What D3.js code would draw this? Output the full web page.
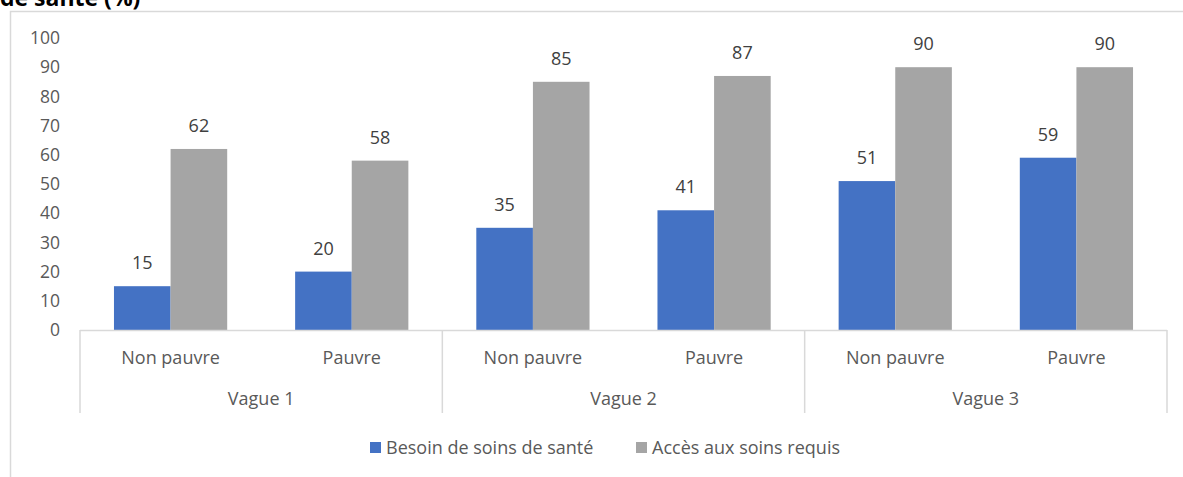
<!DOCTYPE html>
<html><head><meta charset="utf-8">
<script src="https://cdn.jsdelivr.net/npm/d3@7"></script>
<style>body{margin:0;background:#fff;}svg{display:block;font-family:"Open Sans",sans-serif;}</style>
</head><body>
<svg id="c" width="1183" height="477"></svg>
<script>
const waves = ["Vague 1", "Vague 2", "Vague 3"];
const groups = ["Non pauvre", "Pauvre"];
const seriesNames = ["Besoin de soins de santé", "Accès aux soins requis"];
const besoin = [15, 20, 35, 41, 51, 59];
const acces = [62, 58, 85, 87, 90, 90];
const yTicks = [0, 10, 20, 30, 40, 50, 60, 70, 80, 90, 100];
const colors = ["#4472C4", "#A5A5A5"];

const svg = d3.select("#c");
const m = {l: 80, r: 1167, t: 38, b: 330};
const cats = [];
waves.forEach((w, i) => groups.forEach((g, j) => cats.push({w, g, k: i * 2 + j})));

const x0 = d3.scaleBand().domain(cats.map(d => d.k)).range([m.l, m.r]).paddingInner(0.375).paddingOuter(0.1875);
const x1 = d3.scaleBand().domain([0, 1]).range([0, x0.bandwidth()]);
const y = d3.scaleLinear().domain([0, 100]).range([m.b, m.t]);
const xc = d3.scaleBand().domain(cats.map(d => d.k)).range([m.l, m.r]);
const xw = d3.scaleBand().domain(waves).range([m.l, m.r]);

// title (cut off at top, as in the reference)
svg.append("text").attr("x", 0).attr("y", 6).attr("font-weight", "bold").attr("font-size", 23).attr("fill", "#000").text("de santé (%)");

// frame
svg.append("path").attr("d", "M10.5,480 V11.5 H1200").attr("fill", "none").attr("stroke", "#D9D9D9").attr("stroke-width", 1.5);

const fs = 18;
// y axis labels
svg.append("g").selectAll("text").data(yTicks).join("text")
  .attr("x", 60).attr("y", d => y(d)).attr("dy", "0.35em").attr("text-anchor", "end")
  .attr("font-size", 17.5).attr("fill", "#595959").text(d => d);

// bars
const series = [besoin, acces];
series.forEach((vals, si) => {
  svg.append("g").selectAll("rect").data(vals).join("rect")
    .attr("x", (d, i) => x0(i) + x1(si)).attr("width", x1.bandwidth())
    .attr("y", d => y(d)).attr("height", d => y(0) - y(d)).attr("fill", colors[si]);
  svg.append("g").selectAll("text").data(vals).join("text")
    .attr("x", (d, i) => x0(i) + x1(si) + x1.bandwidth() / 2).attr("y", d => y(d) - 17)
    .attr("text-anchor", "middle").attr("font-size", fs).attr("fill", "#404040").text(d => d);
});

// x axis
const axisC = "#D9D9D9";
svg.append("line").attr("x1", m.l).attr("x2", m.r).attr("y1", m.b + 0.5).attr("y2", m.b + 0.5).attr("stroke", axisC).attr("stroke-width", 1.5);
const bounds = waves.map(w => xw(w)).concat([m.r]);
svg.append("g").selectAll("line").data(bounds).join("line")
  .attr("x1", d => d).attr("x2", d => d).attr("y1", m.b).attr("y2", 413)
  .attr("stroke", axisC).attr("stroke-width", 1.5);
svg.append("g").selectAll("text").data(cats).join("text")
  .attr("x", d => xc(d.k) + xc.bandwidth() / 2).attr("y", 364).attr("text-anchor", "middle")
  .attr("font-size", fs).attr("fill", "#595959").text(d => d.g);
svg.append("g").selectAll("text").data(waves).join("text")
  .attr("x", d => xw(d) + xw.bandwidth() / 2).attr("y", 405).attr("text-anchor", "middle")
  .attr("font-size", fs).attr("fill", "#595959").text(d => d);

// legend
const lx = [370, 636];
seriesNames.forEach((n, i) => {
  svg.append("rect").attr("x", lx[i]).attr("y", 442).attr("width", 11).attr("height", 11).attr("fill", colors[i]);
  svg.append("text").attr("x", lx[i] + 16).attr("y", 454).attr("font-size", fs).attr("fill", "#595959").text(n);
});
</script>
</body></html>
